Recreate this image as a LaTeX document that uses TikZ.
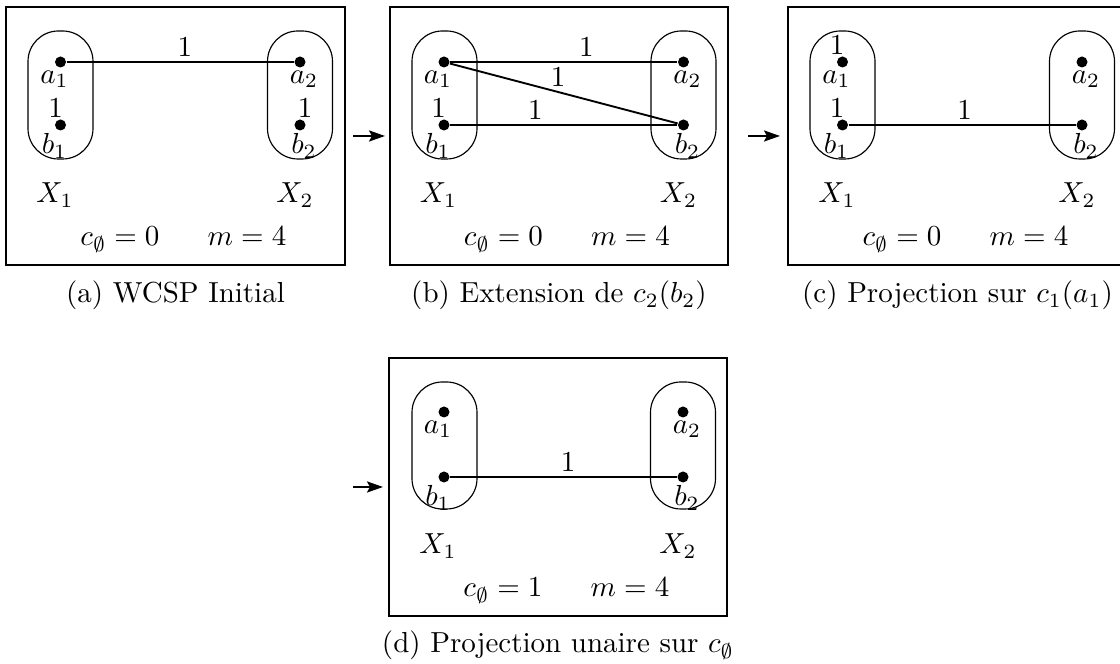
\documentclass[tikz,border=0pt]{standalone}
\usetikzlibrary{arrows.meta}
\begin{document}
\begin{tikzpicture}[x=0.345pt,y=-0.345pt,
  panelbox/.style={line width=0.75pt},
  dom/.style={line width=0.4pt, rounded corners=10.5pt},
  dot/.style={circle, fill=black, inner sep=0pt, minimum size=3.8pt},
  val/.style={inner sep=0pt},
  edge/.style={line width=0.65pt},
  elab/.style={inner sep=0pt, above=1.7pt},
  flow/.style={line width=0.75pt, -{Stealth[length=5.5pt,width=3.8pt,inset=1pt]}}]
\useasboundingbox (0,0) rectangle (1120,664);

% ---------- panel (a)
\begin{scope}[shift={(6,7)}, name prefix=a-]
  \draw[panelbox] (0,0) rectangle (339,258);
  \coordinate (east) at (339,129);
  \draw[dom] (22,24) rectangle (87,152);
  \draw[dom] (261.5,24) rectangle (326.5,152);
  \node[dot] (a1) at (54.5,55) {};
  \node[dot] (b1) at (54.5,118) {};
  \node[dot] (a2) at (294,55) {};
  \node[dot] (b2) at (294,118) {};
  \node[val, anchor=north] (la1) at (48.5,63) {$a_1$};
  \node[val, anchor=north] (lb1) at (48.5,126) {$b_1$};
  \node[val, anchor=north] (la2) at (298,63) {$a_2$};
  \node[val, anchor=north] (lb2) at (298,126) {$b_2$};
  \node[val, anchor=base] (ub1) at (49.5,111) {$1$};
  \node[val, anchor=base] (ub2) at (299,111) {$1$};
  \draw[edge] (a1) -- node[elab, pos=0.52] (e1) {$1$} (a2);
  \node[val, anchor=base] (X1) at (49,196) {$X_1$};
  \node[val, anchor=base] (X2) at (289,196) {$X_2$};
  \node[val, anchor=base] (c0) at (114,239) {$c_\emptyset=0$};
  \node[val, anchor=base] (m) at (241,239) {$m=4$};
  \node[val, anchor=base] (cap) at (169.5,296) {(a) WCSP Initial};
\end{scope}

% ---------- panel (b)
\begin{scope}[shift={(390,7)}, name prefix=b-]
  \draw[panelbox] (0,0) rectangle (338,258);
  \coordinate (west) at (-5,129);
  \coordinate (east) at (338,129);
  \draw[dom] (22,24) rectangle (87,152);
  \draw[dom] (261,24) rectangle (326,152);
  \node[dot] (a1) at (54,55) {};
  \node[dot] (b1) at (54,118) {};
  \node[dot] (a2) at (293.5,55) {};
  \node[dot] (b2) at (293.5,118) {};
  \node[val, anchor=north] (la1) at (48,63) {$a_1$};
  \node[val, anchor=north] (lb1) at (48,126) {$b_1$};
  \node[val, anchor=north] (la2) at (297.5,63) {$a_2$};
  \node[val, anchor=north] (lb2) at (297.5,126) {$b_2$};
  \node[val, anchor=base] (ub1) at (48.5,111) {$1$};
  \draw[edge] (a1) -- node[elab, pos=0.6] (e1) {$1$} (a2);
  \draw[edge] (a1) -- node[elab, pos=0.475] (e2) {$1$} (b2);
  \draw[edge] (b1) -- node[elab, pos=0.375] (e3) {$1$} (b2);
  \node[val, anchor=base] (X1) at (48.5,196) {$X_1$};
  \node[val, anchor=base] (X2) at (288.5,196) {$X_2$};
  \node[val, anchor=base] (c0) at (113.5,239) {$c_\emptyset=0$};
  \node[val, anchor=base] (m) at (240.5,239) {$m=4$};
  \node[val, anchor=base] (cap) at (169,296) {(b) Extension de $c_2(b_2)$};
\end{scope}

% ---------- panel (c)
\begin{scope}[shift={(788,7)}, name prefix=c-]
  \draw[panelbox] (0,0) rectangle (339,258);
  \coordinate (west) at (-8,129);
  \draw[dom] (22,24) rectangle (87,152);
  \draw[dom] (261.5,24) rectangle (326.5,152);
  \node[dot] (a1) at (54.5,55) {};
  \node[dot] (b1) at (54.5,118) {};
  \node[dot] (a2) at (294,55) {};
  \node[dot] (b2) at (294,118) {};
  \node[val, anchor=north] (la1) at (48.5,63) {$a_1$};
  \node[val, anchor=north] (lb1) at (48.5,126) {$b_1$};
  \node[val, anchor=north] (la2) at (298,63) {$a_2$};
  \node[val, anchor=north] (lb2) at (298,126) {$b_2$};
  \node[val, anchor=base] (ua1) at (49,48) {$1$};
  \node[val, anchor=base] (ub1) at (49,111) {$1$};
  \draw[edge] (b1) -- node[elab, pos=0.51] (e1) {$1$} (b2);
  \node[val, anchor=base] (X1) at (49,196) {$X_1$};
  \node[val, anchor=base] (X2) at (289,196) {$X_2$};
  \node[val, anchor=base] (c0) at (114,239) {$c_\emptyset=0$};
  \node[val, anchor=base] (m) at (241,239) {$m=4$};
  \node[val, anchor=base] (cap) at (169.5,296) {(c) Projection sur $c_1(a_1)$};
\end{scope}

% ---------- panel (d)
\begin{scope}[shift={(389,358)}, name prefix=d-]
  \draw[panelbox] (0,0) rectangle (338,258);
  \coordinate (west) at (-6,129);
  \coordinate (start) at (-36,129);
  \draw[dom] (23,24) rectangle (88,151);
  \draw[dom] (261.5,24) rectangle (326.5,151);
  \node[dot] (a1) at (55,54) {};
  \node[dot] (b1) at (55,119) {};
  \node[dot] (a2) at (294,54) {};
  \node[dot] (b2) at (294,119) {};
  \node[val, anchor=north] (la1) at (49,62) {$a_1$};
  \node[val, anchor=north] (lb1) at (49,127) {$b_1$};
  \node[val, anchor=north] (la2) at (298,62) {$a_2$};
  \node[val, anchor=north] (lb2) at (298,127) {$b_2$};
  \draw[edge] (b1) -- node[elab, pos=0.52] (e1) {$1$} (b2);
  \node[val, anchor=base] (X1) at (49,196) {$X_1$};
  \node[val, anchor=base] (X2) at (289,196) {$X_2$};
  \node[val, anchor=base] (c0) at (114,239) {$c_\emptyset=1$};
  \node[val, anchor=base] (m) at (241,239) {$m=4$};
  \node[val, anchor=base] (cap) at (169,295) {(d) Projection unaire sur $c_\emptyset$};
\end{scope}

% ---------- arrows between panels
\coordinate (ab) at ([xshift=2.8pt]a-east);
\draw[flow] (ab) -- (b-west);
\coordinate (bc) at ([xshift=6.9pt]b-east);
\draw[flow] (bc) -- (c-west);
\draw[flow] (d-start) -- (d-west);
\end{tikzpicture}
\end{document}
